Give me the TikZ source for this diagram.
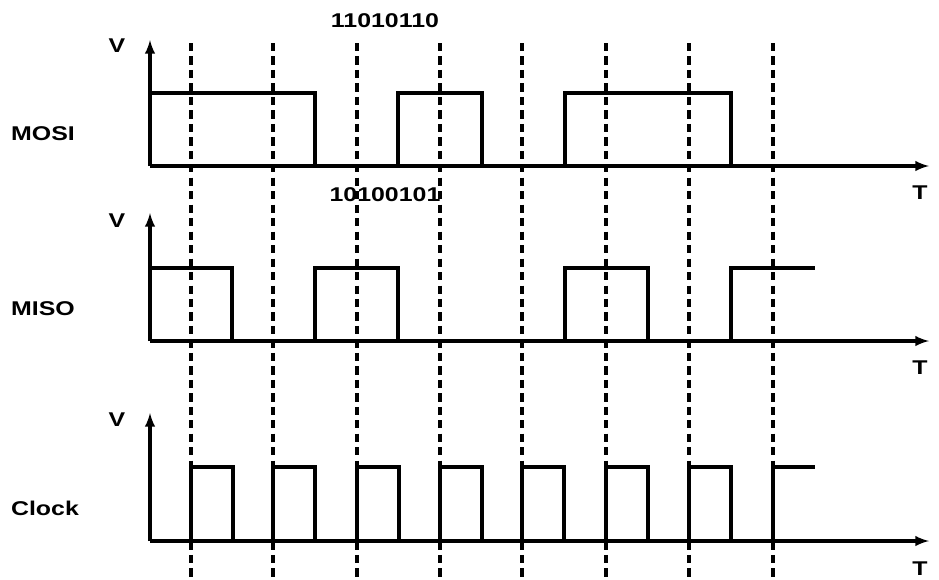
\documentclass[tikz,border=0pt]{standalone}
\usepackage{fontspec}
\setmainfont{Liberation Sans}[FakeStretch=1.25]
\usepackage{tikz}
\usetikzlibrary{positioning, arrows}

\begin{document}
\begin{tikzpicture}[
  x=0.03cm, y=-0.03cm,
  every node/.style={font=\fontsize{17}{19}\selectfont\bfseries, inner sep=0pt},
  axis/.style={line width=3.5pt*0.85, -latex},
  signal/.style={line width=3.5pt*0.85},
  clockline/.style={line width=3.5pt*0.85, dash pattern=on 7pt off 4.5pt}
]
\useasboundingbox (0,0) rectangle (939,580);

% axes
\draw[axis] (150,166) -- (150,40);
\draw[axis] (150,166) -- (929,166);
\draw[axis] (150,341) -- (150,213);
\draw[axis] (150,341) -- (929,341);
\draw[axis] (150,541) -- (150,413);
\draw[axis] (150,541) -- (929,541);

\node (v1) at (117,46) {V};
\node (v2) at (117,221) {V};
\node (v3) at (117,420) {V};
\node (t1) at (920,193) {T};
\node (t2) at (920,368) {T};
\node (t3) at (920,569) {T};

\node (mosi) at (43,134) {MOSI};
\node (miso) at (43,309) {MISO};
\node (clock) at (45,508) {Clock};

% clock edges
\foreach \x in {191,273,357,440,522,606,689,773}
  \draw[clockline] (\x,43) -- (\x,580);

% MOSI
\draw[signal] (150,93) -- (315,93) -- (315,166);
\draw[signal] (398,166) -- (398,93) -- (482,93) -- (482,166);
\draw[signal] (565,166) -- (565,93) -- (731,93) -- (731,166);

% MISO
\draw[signal] (150,268) -- (232,268) -- (232,341);
\draw[signal] (315,341) -- (315,268) -- (398,268) -- (398,341);
\draw[signal] (565,341) -- (565,268) -- (648,268) -- (648,341);
\draw[signal] (731,341) -- (731,268) -- (815,268);

% Clock
\foreach \x in {191,273,357,440,522,606,689}
  \draw[signal] (\x,541) -- (\x,467) -- (\x+42,467) -- (\x+42,541);
\draw[signal] (773,541) -- (773,467) -- (815,467);

\node (mosibits) at (385,21) {11010110};
\node (misobits) at (385,195) {10100101};
\end{tikzpicture}
\end{document}
